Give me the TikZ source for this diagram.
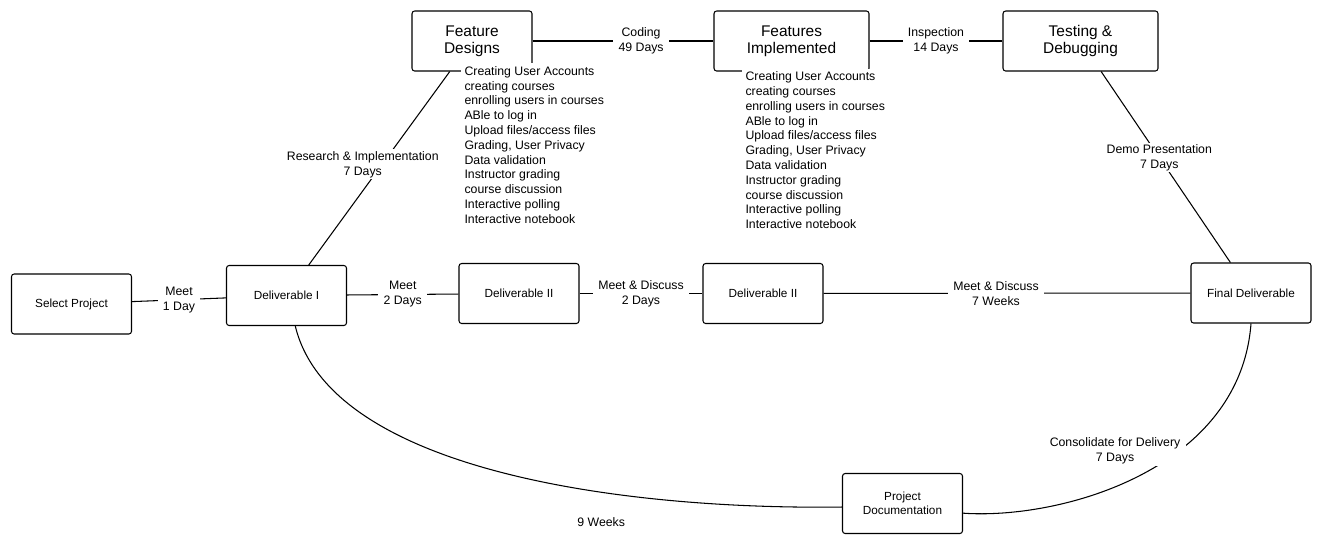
\documentclass[tikz,border=0pt]{standalone}
\usepackage{fontspec}
\setmainfont{Liberation Sans}
\usetikzlibrary{arrows}
\tikzstyle{bx}=[rectangle,rounded corners=1.5pt,draw=black,line width=0.6pt,
  minimum width=2.4cm,minimum height=1.2cm,align=center,
  font=\fontsize{6.7}{8.2}\selectfont]
\tikzstyle{big}=[font=\fontsize{8.8}{9.6}\selectfont]
\tikzstyle{lbl}=[fill=white,inner ysep=1pt,inner xsep=3pt,align=center,
  font=\fontsize{7}{8.5}\selectfont]
\tikzstyle{lst}=[fill=white,inner sep=2pt,align=left,anchor=north west,
  font=\fontsize{7}{8.4}\selectfont]

\begin{document}
\begin{tikzpicture}[x=0.02cm,y=-0.02cm,line width=0.6pt]
        \useasboundingbox (0,0) rectangle (1322,545);
        \node[style=bx] (0) at (71.5,304) {Select Project};
        \node[style=bx] (1) at (286.5,295.5) {Deliverable I};
        \node[style=bx] (2) at (519,293.5) {Deliverable II};
        \node[style=bx] (3) at (763,293.5) {Deliverable II};
        \node[style=bx] (4) at (1251,293) {Final Deliverable};
        \node[style=bx,style=big] (5) at (472,41) {Feature\\Designs};
        \node[style=bx,style=big,minimum width=3.1cm] (6) at (791.5,41) {Features\\Implemented};
        \node[style=bx,style=big,minimum width=3.1cm] (7) at (1080.5,41) {Testing \&\\Debugging};
        \node[style=bx] (8) at (902.5,503.5) {Project\\Documentation};
        \node[style=lst] (9) at (460.5,62.5) {Creating User Accounts\\creating courses\\enrolling users in courses\\ABle to log in\\Upload files/access files\\Grading, User Privacy\\Data validation\\Instructor grading\\course discussion\\Interactive polling\\Interactive notebook};
        \node[style=lst] (10) at (741.5,68) {Creating User Accounts\\creating courses\\enrolling users in courses\\ABle to log in\\Upload files/access files\\Grading, User Privacy\\Data validation\\Instructor grading\\course discussion\\Interactive polling\\Interactive notebook};
        \draw (0) to node[style=lbl] (e0) {Meet\\1 Day} (1);
        \draw (1) to node[style=lbl] (e1) {Meet\\2 Days} (2);
        \draw (2) to node[style=lbl] (e2) {Meet \& Discuss\\2 Days} (3);
        \draw (3) to node[style=lbl,pos=0.47] (e3) {Meet \& Discuss\\7 Weeks} (4);
        \draw (5) to node[style=lbl,pos=0.6] (e4) {Coding\\49 Days} (6);
        \draw (6) to node[style=lbl] (e5) {Inspection\\14 Days} (7);
        \draw (1) to node[style=lbl,pos=0.52,xshift=-11pt] (e6) {Research \& Implementation\\7 Days} (5);
        \draw (7) to node[style=lbl,pos=0.45] (e7) {Demo Presentation\\7 Days} (4);
        \draw ([xshift=5pt]1.south) .. controls (330,470) and (620,510) .. ([yshift=-2pt]8.west)
          node[style=lbl,pos=0.655,yshift=-17pt] (e8) {9 Weeks};
        \draw (4.south) .. controls (1240,470) and (1060,520) .. ([yshift=-5.5pt]8.east)
          node[style=lbl,pos=0.38,anchor=east,xshift=4pt] (e9) {Consolidate for Delivery\\7 Days};
    \end{tikzpicture}
\end{document}
